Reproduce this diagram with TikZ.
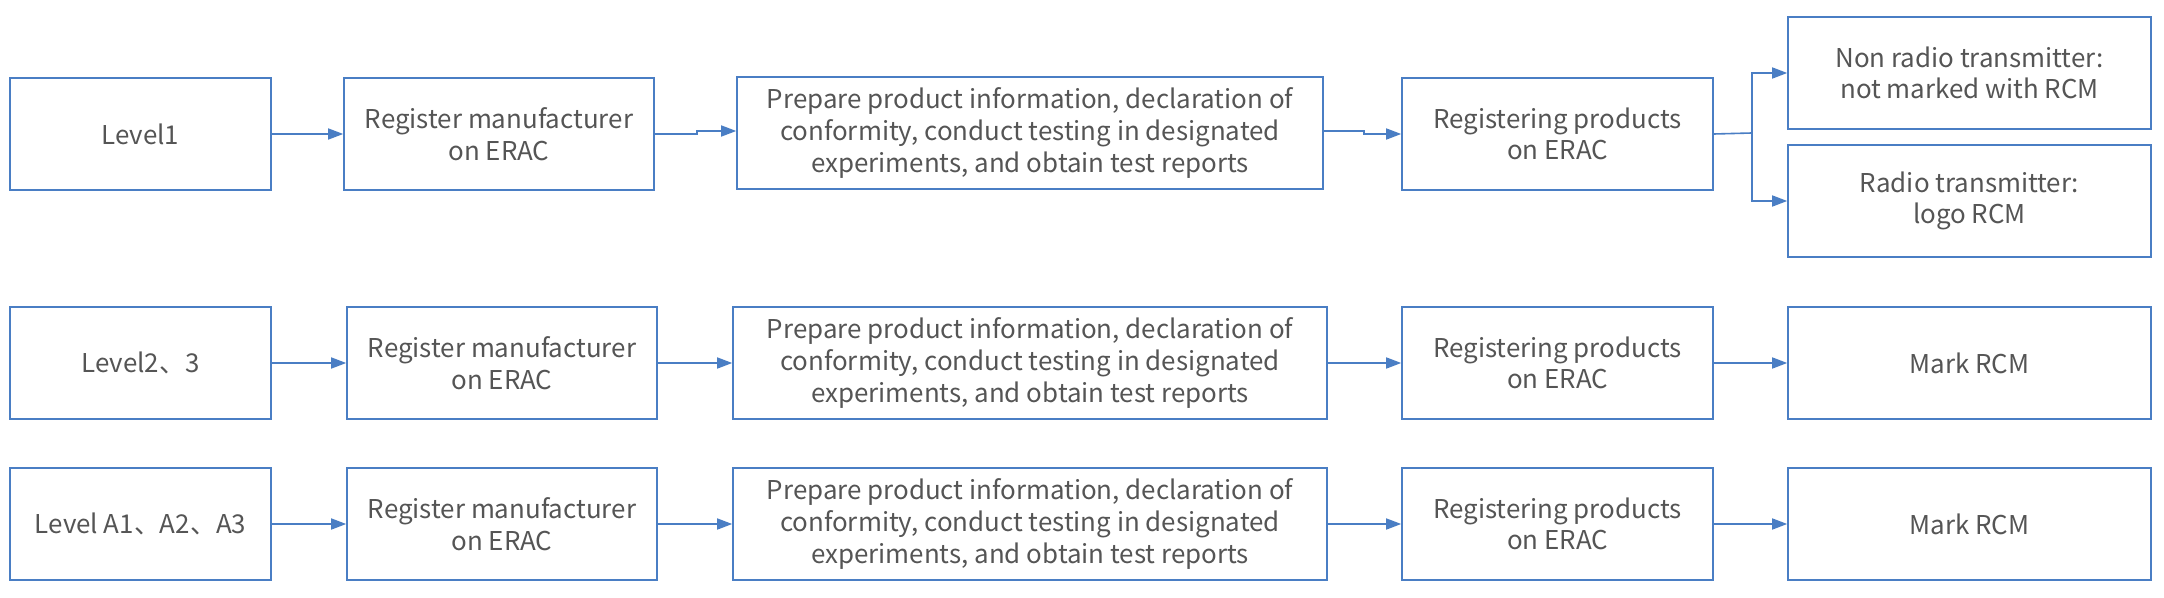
\documentclass[tikz,border=0pt]{standalone}
\usepackage{fontspec}
\setmainfont{Noto Sans CJK SC}
\usetikzlibrary{arrows.meta,calc}
\definecolor{boxblue}{RGB}{74,126,196}
\definecolor{txtgray}{RGB}{85,85,85}
\begin{document}
\begin{tikzpicture}[x=1bp,y=-1bp,
  box/.style={draw=boxblue, line width=1.6bp, inner sep=0pt, text=txtgray,
    font=\fontsize{26}{31.8}\selectfont, align=center, minimum height=112bp},
  wire/.style={draw=boxblue, line width=1.6bp},
  conn/.style={wire, -{Triangle[length=15bp,width=11bp]}}]
\useasboundingbox (0,0) rectangle (2164,598);
\fill[white] (0,0) rectangle (2164,598);

% Row 1
\node[box, minimum width=261bp] (l1) at (140.5,134) {Level1};
\node[box, minimum width=310bp] (r1) at (499,134) {Register manufacturer\\on ERAC};
\node[box, minimum width=586bp] (p1) at (1030,133) {Prepare product information, declaration of\\conformity, conduct testing in designated\\experiments, and obtain test reports};
\node[box, minimum width=311bp] (g1) at (1557.5,134) {Registering products\\on ERAC};
\node[box, minimum width=363bp] (n1) at (1969.5,73) {Non radio transmitter:\\not marked with RCM};
\node[box, minimum width=363bp] (d1) at (1969.5,201) {Radio transmitter:\\logo RCM};

\draw[conn] (l1.east) -- (r1.west);
\draw[conn] (r1.east) -- ++(42,0) |- ($(p1.west)+(0,-2)$);
\draw[conn] ($(p1.east)+(0,-2)$) -- ++(40,0) |- (g1.west);
\coordinate (j1) at ($(g1.east)+(38,-1)$);
\draw[wire] (g1.east) -- (j1);
\draw[conn] (j1) |- (n1.west);
\draw[conn] (j1) |- (d1.west);

% Row 2
\node[box, minimum width=261bp] (l2) at (140.5,363) {Level2、3};
\node[box, minimum width=310bp] (r2) at (502,363) {Register manufacturer\\on ERAC};
\node[box, minimum width=594bp] (p2) at (1030,363) {Prepare product information, declaration of\\conformity, conduct testing in designated\\experiments, and obtain test reports};
\node[box, minimum width=311bp] (g2) at (1557.5,363) {Registering products\\on ERAC};
\node[box, minimum width=363bp] (m2) at (1969.5,363) {Mark RCM};

\draw[conn] (l2.east) -- (r2.west);
\draw[conn] (r2.east) -- (p2.west);
\draw[conn] (p2.east) -- (g2.west);
\draw[conn] (g2.east) -- (m2.west);

% Row 3
\node[box, minimum width=261bp] (l3) at (140.5,524) {Level A1、A2、A3};
\node[box, minimum width=310bp] (r3) at (502,524) {Register manufacturer\\on ERAC};
\node[box, minimum width=594bp] (p3) at (1030,524) {Prepare product information, declaration of\\conformity, conduct testing in designated\\experiments, and obtain test reports};
\node[box, minimum width=311bp] (g3) at (1557.5,524) {Registering products\\on ERAC};
\node[box, minimum width=363bp] (m3) at (1969.5,524) {Mark RCM};

\draw[conn] (l3.east) -- (r3.west);
\draw[conn] (r3.east) -- (p3.west);
\draw[conn] (p3.east) -- (g3.west);
\draw[conn] (g3.east) -- (m3.west);
\end{tikzpicture}
\end{document}
